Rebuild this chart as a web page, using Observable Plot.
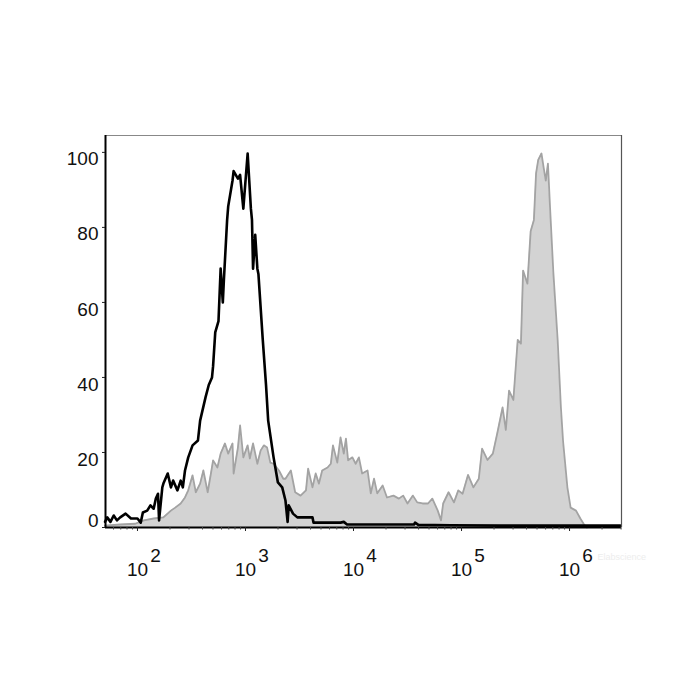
<!DOCTYPE html>
<html>
<head>
<meta charset="utf-8">
<script src="https://cdn.jsdelivr.net/npm/d3@7"></script>
<script src="https://cdn.jsdelivr.net/npm/@observablehq/plot@0.6"></script>
<style>
  html, body { margin: 0; padding: 0; background: #fff; }
  #chart { position: relative; width: 700px; height: 700px; }
  #chart svg { display: block; font-family: "Liberation Sans", Arial, sans-serif; }
</style>
</head>
<body>
<div id="chart"></div>
<script>
// Isotype control (black line): log10 fluorescence and % of max
const isoLog = [
  1.70,1.72,1.75,1.78,1.81,1.84,1.89,1.94,2.00,2.03,
  2.05,2.09,2.12,2.15,2.17,2.19,2.20,2.23,2.24,2.28,
  2.31,2.33,2.37,2.40,2.42,2.44,2.47,2.51,2.56,2.58,
  2.63,2.66,2.69,2.70,2.72,2.75,2.77,2.79,2.80,2.83,
  2.84,2.88,2.89,2.93,2.95,2.98,3.02,3.05,3.06,3.07,
  3.09,3.11,3.12,3.16,3.19,3.21,3.26,3.30,3.34,3.37,
  3.39,3.40,3.44,3.48,3.56,3.62,3.63,3.74,3.88,3.91,
  3.94,4.25,4.56,4.57,4.60,4.90,5.36,5.92,6.47];
const isoCount = [
  1.5,2.7,1.5,3.2,1.9,2.7,3.7,2.4,2.4,1.3,
  4.0,4.5,5.9,5.0,7.7,9.0,1.9,10.7,11.7,14.4,
  10.7,12.5,9.9,12.5,10.7,15.2,18.7,21.9,23.2,28.5,
  34.7,38.0,40.0,43.0,52.0,55.0,69.0,60.0,66.0,82.0,
  85.6,92.5,95.0,93.0,94.0,85.0,99.7,85.0,82.0,69.0,
  78.0,69.0,67.5,50.0,38.0,28.5,18.7,12.0,10.7,7.2,
  1.5,5.9,3.7,2.7,2.7,2.7,1.3,1.3,1.3,1.5,
  0.8,0.8,0.8,1.3,0.7,0.6,0.5,0.5,0.5];

// Stained sample (grey filled): log10 fluorescence and % of max
const stainLog = [
  1.70,1.84,1.98,2.06,2.15,2.24,2.31,2.35,2.40,2.44,
  2.47,2.51,2.54,2.58,2.61,2.65,2.68,2.70,2.74,2.77,
  2.81,2.84,2.88,2.89,2.93,2.95,2.98,3.02,3.04,3.07,
  3.11,3.14,3.17,3.20,3.23,3.26,3.31,3.35,3.37,3.42,
  3.46,3.51,3.56,3.58,3.62,3.65,3.68,3.71,3.76,3.79,
  3.81,3.85,3.88,3.91,3.93,3.95,3.99,4.02,4.05,4.08,
  4.13,4.16,4.19,4.22,4.27,4.31,4.37,4.42,4.46,4.50,
  4.55,4.59,4.64,4.69,4.73,4.78,4.81,4.83,4.88,4.93,
  4.97,5.01,5.06,5.11,5.16,5.19,5.24,5.29,5.33,5.38,
  5.41,5.44,5.48,5.52,5.55,5.57,5.61,5.64,5.67,5.69,
  5.71,5.74,5.76,5.78,5.80,5.82,5.85,5.89,5.92,5.94,
  5.98,6.01,6.06,6.10,6.13,6.16];
const stainCount = [
  0.5,0.8,1.0,1.9,2.4,2.7,4.5,5.3,6.4,8.0,
  9.9,13.9,9.4,11.7,15.2,9.4,14.4,17.9,16.0,19.7,
  22.4,19.7,22.4,14.4,21.3,27.2,18.7,21.9,18.4,22.4,
  17.0,20.5,21.9,21.3,17.3,17.0,15.2,13.0,13.0,15.2,
  9.4,8.5,9.9,15.7,10.7,14.4,11.7,15.2,16.0,17.0,
  21.9,17.3,24.0,19.7,23.7,17.9,18.7,17.0,18.7,14.4,
  15.2,9.1,13.0,9.1,11.2,8.0,8.5,7.7,8.5,6.4,
  8.5,6.7,6.4,6.4,7.7,4.5,1.9,6.4,9.4,6.7,
  9.9,9.0,14.0,10.7,13.0,21.0,18.0,19.7,25.0,32.0,
  26.0,36.5,34.0,50.0,49.0,68.5,65.0,79.0,82.0,94.4,
  98.0,99.7,96.0,92.5,97.0,85.0,68.0,50.0,32.0,23.0,
  10.7,5.3,4.5,2.4,1.0,0.0];

// Axis ticks
const xExponents = [2, 3, 4, 5, 6];
const yTicks = [0, 20, 40, 60, 80, 100];
const xDomainLog = [1.704, 6.481];
const yMax = 104.5;

const iso = isoLog.map((l, i) => ({x: Math.pow(10, l), y: isoCount[i]}));
const stain = stainLog.map((l, i) => ({x: Math.pow(10, l), y: stainCount[i]}));
const xMin = Math.pow(10, xDomainLog[0]);
const xMax = Math.pow(10, xDomainLog[1]);
const majorTicks = xExponents.map(e => Math.pow(10, e));
const minorTicks = [];
for (let e = 1; e <= 6; e++) for (let m = 2; m <= 9; m++) {
  const v = m * Math.pow(10, e);
  if (v > xMin && v < xMax) minorTicks.push(v);
}

const fontFamily = "Liberation Sans, Arial, sans-serif";

const chart = Plot.plot({
  width: 700,
  height: 700,
  marginLeft: 105,
  marginRight: 79,
  marginTop: 135,
  marginBottom: 173,
  style: {fontFamily, background: "#fff"},
  x: {type: "log", domain: [xMin, xMax], axis: null},
  y: {domain: [0, yMax], axis: null},
  marks: [
    Plot.areaY(stain, {x: "x", y: "y", fill: "#d3d3d3"}),
    Plot.lineY(stain, {x: "x", y: "y", stroke: "#a3a3a3", strokeWidth: 1.8, strokeLinejoin: "round"}),
    Plot.lineY(iso, {x: "x", y: "y", stroke: "#000", strokeWidth: 2.6, strokeLinejoin: "round"}),
    // frame: grey top, dark right, black left/bottom
    Plot.ruleY([yMax], {stroke: "#888", strokeWidth: 1}),
    Plot.ruleX([xMax], {stroke: "#555", strokeWidth: 1.2}),
    Plot.ruleX([xMin], {stroke: "#000", strokeWidth: 2}),
    Plot.ruleY([0], {stroke: "#000", strokeWidth: 2}),
    // ticks
    Plot.axisY({ticks: yTicks, tickSize: 3, tickFormat: () => "", label: null, stroke: "#222"}),
    Plot.axisX({ticks: majorTicks, tickSize: 4, tickFormat: () => "", label: null, stroke: "#222"}),
    Plot.axisX({ticks: minorTicks, tickSize: 2.5, tickFormat: () => "", label: null, stroke: "#444"}),
    // y labels
    Plot.text(yTicks.filter(d => d > 0), {x: () => xMin, y: d => d, text: d => String(d), textAnchor: "end", dx: -7, dy: 7, fontSize: 19, fill: "#111"}),
    Plot.text(yTicks.filter(d => d === 0), {x: () => xMin, y: d => d, text: d => String(d), textAnchor: "end", dx: -7, dy: -7, fontSize: 19, fill: "#111"}),
    // x labels: 10 with superscript exponent
    Plot.text(xExponents, {x: e => Math.pow(10, e), y: () => 0, text: () => "10", dy: 42, fontSize: 19, fill: "#111"}),
    Plot.text(xExponents, {x: e => Math.pow(10, e), y: () => 0, text: e => String(e), dx: 18, dy: 28, fontSize: 19, fill: "#111"}),
    // faint watermark
    Plot.text(["Elabscience"], {x: () => xMax, y: () => 0, text: d => d, textAnchor: "start", dx: -24, dy: 30, fontSize: 9, fill: "#ededed"})
  ]
});
document.getElementById("chart").appendChild(chart);
</script>
</body>
</html>
